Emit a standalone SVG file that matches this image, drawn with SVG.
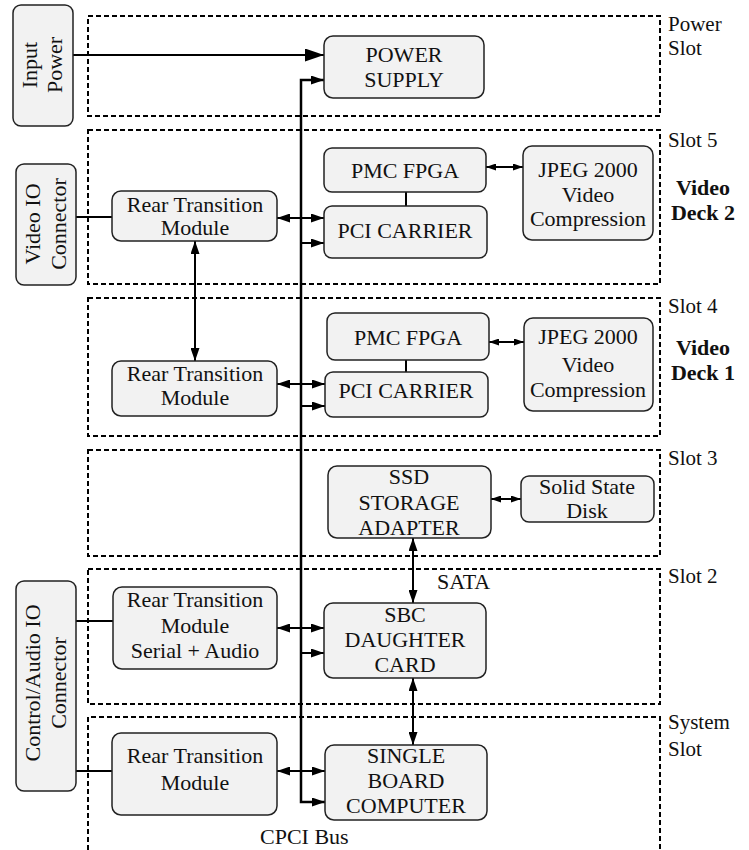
<svg xmlns="http://www.w3.org/2000/svg" width="749" height="850" viewBox="0 0 749 850">
<style>
  .slot { fill: none; stroke: #000; stroke-width: 2; stroke-dasharray: 5 3; }
  .box { fill: #f2f2f2; stroke: #222; stroke-width: 1.5; }
  text { font-family: 'Liberation Serif', 'Tinos', 'DejaVu Serif', 'Times New Roman', serif; fill: #111; }
  .t { font-size: 22px; text-anchor: middle; }
  .lbl { font-size: 21px; }
  .bold { font-size: 22px; font-weight: bold; text-anchor: middle; }
  .ln { fill: none; stroke: #000; stroke-width: 2; }
  .a { fill: none; stroke: #000; stroke-width: 2; marker-end: url(#ah); }
  .aa { fill: none; stroke: #000; stroke-width: 2; marker-start: url(#ah); marker-end: url(#ah); }
  .sa { fill: none; stroke: #000; stroke-width: 2; marker-start: url(#sh); marker-end: url(#sh); }
</style>
<defs>
  <marker id="ah" markerUnits="userSpaceOnUse" markerWidth="13" markerHeight="9" refX="13" refY="4.5" orient="auto-start-reverse">
    <path d="M0,0 L13,4.5 L0,9 z" fill="#000"/>
  </marker>
  <marker id="sh" markerUnits="userSpaceOnUse" markerWidth="10" markerHeight="7" refX="10" refY="3.5" orient="auto-start-reverse">
    <path d="M0,0 L10,3.5 L0,7 z" fill="#000"/>
  </marker>
  <marker id="bh" markerUnits="userSpaceOnUse" markerWidth="19" markerHeight="13" refX="19" refY="6.5" orient="auto">
    <path d="M0,0 L19,6.5 L0,13 z" fill="#000"/>
  </marker>
</defs>

<g id="slots">
  <rect class="slot" x="88" y="16" width="572" height="100"/>
  <rect class="slot" x="88" y="130" width="572" height="154"/>
  <rect class="slot" x="88" y="298" width="572" height="138"/>
  <rect class="slot" x="88" y="450" width="572" height="106"/>
  <rect class="slot" x="88" y="569" width="572" height="135"/>
  <path class="slot" d="M88,850 V717 H660 V850"/>
</g>

<g id="slot-labels">
  <text class="lbl" x="668" y="31">Power</text>
  <text class="lbl" x="668" y="55">Slot</text>
  <text class="lbl" x="668" y="147">Slot 5</text>
  <text class="bold" x="703" y="195">Video</text>
  <text class="bold" x="703" y="220">Deck 2</text>
  <text class="lbl" x="668" y="313">Slot 4</text>
  <text class="bold" x="703" y="355">Video</text>
  <text class="bold" x="703" y="380">Deck 1</text>
  <text class="lbl" x="668" y="465">Slot 3</text>
  <text class="lbl" x="668" y="583">Slot 2</text>
  <text class="lbl" x="668" y="729">System</text>
  <text class="lbl" x="668" y="756">Slot</text>
</g>

<g id="connectors">
  <path d="M73,55 H324" fill="none" stroke="#000" stroke-width="2.2" marker-end="url(#bh)"/>
  <path d="M324,80 H301 V802 H325" fill="none" stroke="#000" stroke-width="2.5" marker-start="url(#ah)" marker-end="url(#ah)"/>
  <path class="a" d="M301,243 H324"/>
  <path class="a" d="M301,406 H325"/>
  <path class="a" d="M301,653 H324"/>
  <path class="aa" d="M277,218 H324"/>
  <path class="aa" d="M277,384 H325"/>
  <path class="aa" d="M277,628 H324"/>
  <path class="aa" d="M277,771 H325"/>
  <path class="ln" d="M76,217 H112"/>
  <path class="ln" d="M76,621 H113"/>
  <path class="ln" d="M76,771 H112"/>
  <path class="aa" d="M195,241 V361"/>
  <path class="sa" d="M486,167 H523"/>
  <path class="sa" d="M489,342 H524"/>
  <path class="sa" d="M491,499 H521"/>
  <path class="aa" d="M413,538 V603"/>
  <path class="aa" d="M413,678 V745"/>
  <path class="ln" d="M406,192 V206"/>
  <path class="ln" d="M406,360 V372"/>
  <text x="437" y="589" font-size="22">SATA</text>
  <text x="260" y="844" font-size="22">CPCI Bus</text>
</g>

<g id="input-power">
  <rect class="box" x="13" y="5" width="60" height="121" rx="8"/>
  <text class="t" transform="translate(37,65) rotate(-90)">Input</text>
  <text class="t" transform="translate(62,65) rotate(-90)">Power</text>
</g>
<g id="video-io-connector">
  <rect class="box" x="16" y="164" width="60" height="121" rx="8"/>
  <text class="t" transform="translate(40,224) rotate(-90)">Video IO</text>
  <text class="t" transform="translate(66,224) rotate(-90)">Connector</text>
</g>
<g id="control-audio-connector">
  <rect class="box" x="16" y="581" width="60" height="210" rx="8"/>
  <text class="t" transform="translate(40,683) rotate(-90)">Control/Audio IO</text>
  <text class="t" transform="translate(66,683) rotate(-90)">Connector</text>
</g>

<g id="power-supply">
  <rect class="box" x="324" y="36" width="160" height="62" rx="9"/>
  <text class="t" x="404" y="62">POWER</text>
  <text class="t" x="404" y="87">SUPPLY</text>
</g>

<g id="rtm5">
  <rect class="box" x="112" y="191" width="165" height="50" rx="9"/>
  <text class="t" x="195" y="212">Rear Transition</text>
  <text class="t" x="195" y="235">Module</text>
</g>
<g id="pmc5">
  <rect class="box" x="324" y="148" width="162" height="44" rx="8"/>
  <text class="t" x="405" y="178">PMC FPGA</text>
</g>
<g id="pci5">
  <rect class="box" x="324" y="206" width="163" height="52" rx="8"/>
  <text class="t" x="405" y="238">PCI CARRIER</text>
</g>
<g id="jpeg5">
  <rect class="box" x="523" y="146" width="130" height="94" rx="9"/>
  <text class="t" x="588" y="177">JPEG 2000</text>
  <text class="t" x="588" y="202">Video</text>
  <text class="t" x="588" y="226">Compression</text>
</g>

<g id="rtm4">
  <rect class="box" x="112" y="361" width="165" height="55" rx="9"/>
  <text class="t" x="195" y="381">Rear Transition</text>
  <text class="t" x="195" y="405">Module</text>
</g>
<g id="pmc4">
  <rect class="box" x="327" y="313" width="162" height="47" rx="8"/>
  <text class="t" x="408" y="345">PMC FPGA</text>
</g>
<g id="pci4">
  <rect class="box" x="325" y="372" width="163" height="45" rx="8"/>
  <text class="t" x="406" y="398">PCI CARRIER</text>
</g>
<g id="jpeg4">
  <rect class="box" x="524" y="318" width="129" height="93" rx="9"/>
  <text class="t" x="588" y="344">JPEG 2000</text>
  <text class="t" x="588" y="372">Video</text>
  <text class="t" x="588" y="397">Compression</text>
</g>

<g id="ssd-adapter">
  <rect class="box" x="328" y="466" width="163" height="72" rx="9"/>
  <text class="t" x="409" y="484">SSD</text>
  <text class="t" x="409" y="510">STORAGE</text>
  <text class="t" x="409" y="535">ADAPTER</text>
</g>
<g id="solid-state-disk">
  <rect class="box" x="521" y="476" width="133" height="46" rx="8"/>
  <text class="t" x="587" y="494">Solid State</text>
  <text class="t" x="587" y="518">Disk</text>
</g>

<g id="rtm-serial">
  <rect class="box" x="113" y="587" width="164" height="82" rx="9"/>
  <text class="t" x="195" y="607">Rear Transition</text>
  <text class="t" x="195" y="633">Module</text>
  <text class="t" x="195" y="658">Serial + Audio</text>
</g>
<g id="sbc-daughter">
  <rect class="box" x="324" y="603" width="162" height="75" rx="9"/>
  <text class="t" x="405" y="622">SBC</text>
  <text class="t" x="405" y="647">DAUGHTER</text>
  <text class="t" x="405" y="672">CARD</text>
</g>

<g id="rtm-system">
  <rect class="box" x="112" y="733" width="165" height="82" rx="9"/>
  <text class="t" x="195" y="763">Rear Transition</text>
  <text class="t" x="195" y="790">Module</text>
</g>
<g id="sbc">
  <rect class="box" x="325" y="745" width="162" height="75" rx="9"/>
  <text class="t" x="406" y="763">SINGLE</text>
  <text class="t" x="406" y="788">BOARD</text>
  <text class="t" x="406" y="813">COMPUTER</text>
</g>
</svg>
